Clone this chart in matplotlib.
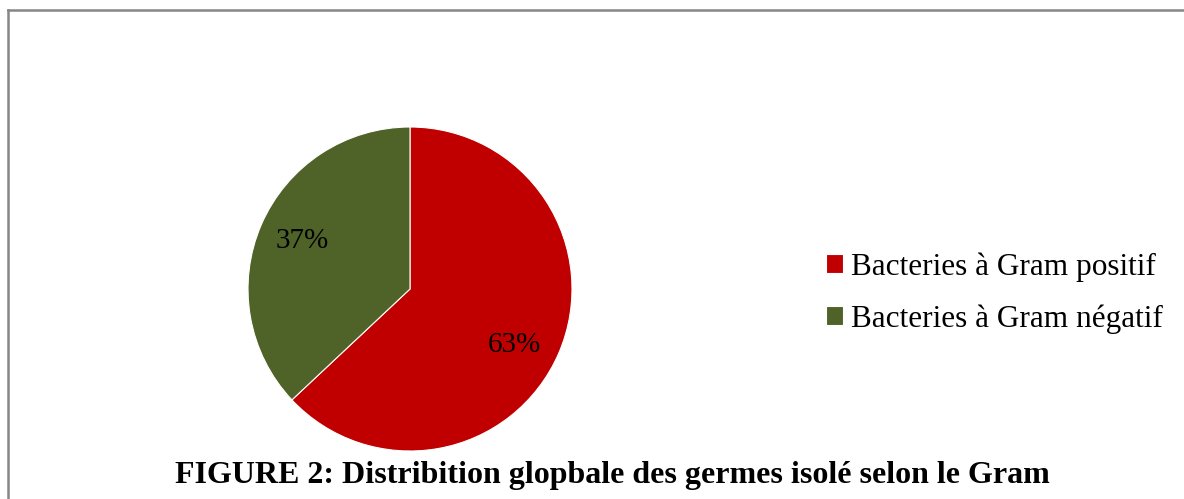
import matplotlib
matplotlib.use('Agg')
import matplotlib.pyplot as plt
from matplotlib.lines import Line2D

plt.rcParams['font.family'] = ['Liberation Serif', 'DejaVu Serif']

labels = ['Bacteries à Gram positif', 'Bacteries à Gram négatif']
values = [63, 37]
colors = ['#C00000', '#4F6228']
title = 'FIGURE 2: Distribition glopbale des germes isolé selon le Gram'

W, H = 1184, 499
fig = plt.figure(figsize=(W / 100, H / 100), dpi=100)

# pie placed in pixel terms: centre (410, 289), radius 162
cx, cy, r = 410, 289, 162
ax = fig.add_axes([(cx - r) / W, (H - cy - r) / H, 2 * r / W, 2 * r / H])
wedges, _, autotexts = ax.pie(values, colors=colors, startangle=90, counterclock=False,
                              autopct='%d%%', pctdistance=0.72, radius=1,
                              wedgeprops=dict(edgecolor='white', linewidth=0.8),
                              textprops=dict(fontsize=21, color='black'))
# excel-style label placement
autotexts[0].set_position((0.642, -0.346))
autotexts[1].set_position((-0.667, 0.296))
ax.set_xlim(-1, 1)
ax.set_ylim(-1, 1)
ax.set_aspect('equal')

fig.legend(wedges, labels, loc='center left', bbox_to_anchor=(826 / W, 1 - 293 / H),
           frameon=False, fontsize=22.5, handlelength=0.55, handleheight=0.55,
           handletextpad=0.26, labelspacing=0.72, borderpad=0, borderaxespad=0)

fig.text(612 / W, 1 - 475 / H, title, ha='center', va='center',
         fontsize=23, fontweight='bold')

# outer frame (top and left visible)
fig.add_artist(Line2D([8 / W, 1], [1 - 9.5 / H, 1 - 9.5 / H], color='#868686', lw=1.8))
fig.add_artist(Line2D([8 / W, 8 / W], [0, 1 - 9.5 / H], color='#868686', lw=1.8))

fig.savefig('out.png', dpi=100)
